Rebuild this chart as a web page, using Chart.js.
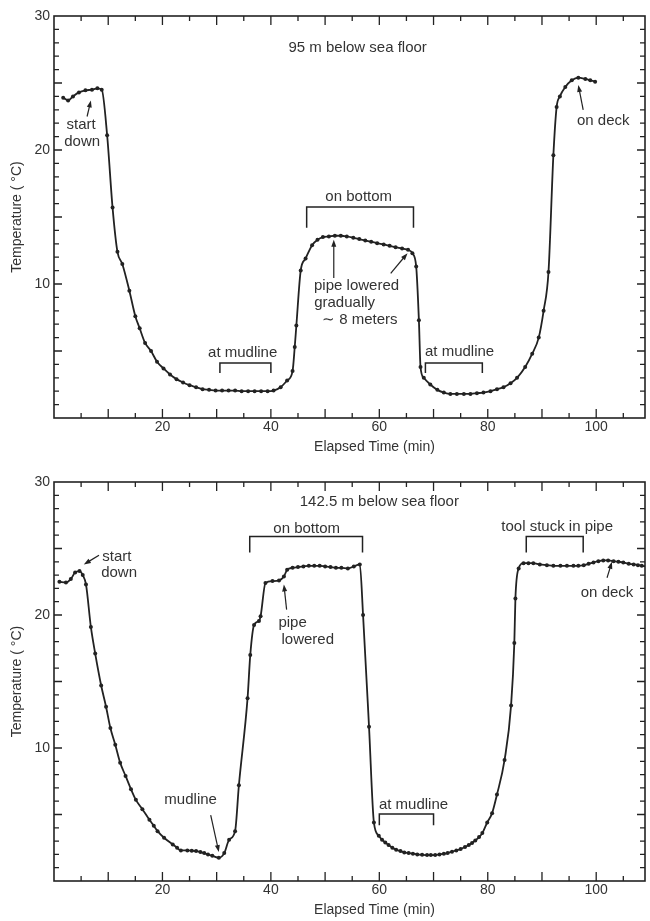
<!DOCTYPE html>
<html><head><meta charset="utf-8">
<script src="https://cdn.jsdelivr.net/npm/chart.js@4.4.1/dist/chart.umd.min.js"></script>
<style>
html,body{margin:0;padding:0;background:#fff;}
#wrap{position:relative;width:650px;height:921px;overflow:hidden;background:#fff}
canvas{position:absolute;left:0}
</style></head><body>
<div id="wrap">
<canvas id="topChart" width="650" height="460" style="top:0"></canvas>
<canvas id="bottomChart" width="650" height="461" style="top:460px"></canvas>
</div>
<script>
// ---------- data ----------
const topTime = [1.7,2.6,3.5,4.6,5.8,7.0,8.0,8.8,9.8,10.8,11.7,12.6,13.9,15.0,15.8,16.8,17.9,19.0,20.2,21.4,22.6,23.8,25.0,26.2,27.4,28.6,29.8,31.0,32.2,33.4,34.6,35.8,37.0,38.2,39.4,40.5,41.8,43.0,44.0,44.4,44.7,45.5,46.4,47.6,48.6,49.6,50.7,51.8,52.9,54.0,55.2,56.3,57.4,58.5,59.6,60.8,61.9,63.0,64.2,65.3,66.1,66.8,67.3,67.6,68.2,69.4,70.7,71.9,73.1,74.3,75.6,76.8,78.0,79.2,80.5,81.7,82.9,84.2,85.4,86.9,88.2,89.4,90.3,91.2,92.1,92.7,93.3,94.3,95.5,96.7,98.0,98.9,99.8];
const topTemp = [23.9,23.7,24.0,24.3,24.45,24.5,24.6,24.5,21.1,15.7,12.4,11.5,9.5,7.6,6.7,5.6,5.0,4.2,3.7,3.25,2.9,2.65,2.45,2.3,2.15,2.1,2.05,2.05,2.05,2.05,2.0,2.0,2.0,2.0,2.0,2.05,2.3,2.8,3.5,5.3,6.9,11.0,11.9,12.9,13.3,13.5,13.55,13.6,13.6,13.55,13.45,13.35,13.25,13.15,13.05,12.95,12.85,12.75,12.65,12.55,12.3,11.3,7.3,3.8,3.0,2.5,2.1,1.9,1.8,1.8,1.8,1.8,1.85,1.9,2.0,2.15,2.3,2.6,3.0,3.8,4.8,6.0,8.0,10.9,19.6,23.2,24.0,24.7,25.2,25.4,25.3,25.2,25.1];

const bottomTime = [1.0,2.2,3.1,3.9,4.7,5.3,5.9,6.8,7.6,8.7,9.6,10.4,11.3,12.2,13.2,14.2,15.1,16.3,17.6,18.4,19.1,20.3,21.9,22.7,23.4,24.6,25.4,26.2,27.0,27.7,28.4,29.2,30.4,31.4,32.3,33.4,34.1,35.7,36.2,36.9,37.8,38.1,39.0,40.3,41.5,42.4,43.0,44.0,45.0,46.0,47.0,48.0,49.0,50.0,51.0,52.0,53.0,54.2,55.3,56.4,57.0,58.1,59.0,59.9,60.5,61.1,61.7,62.4,63.1,63.9,64.6,65.4,66.2,67.0,67.9,68.8,69.5,70.3,71.1,71.9,72.6,73.4,74.2,75.0,75.8,76.5,77.1,77.7,78.4,79.0,79.9,80.8,81.7,83.1,84.3,84.9,85.1,85.7,86.6,87.5,88.4,89.6,90.9,92.1,93.4,94.6,95.8,96.7,97.7,98.6,99.5,100.4,101.3,102.2,103.2,104.1,105.0,106.0,106.9,107.7,108.4,109.5];
const bottomTemp = [22.5,22.45,22.7,23.2,23.3,23.0,22.3,19.1,17.1,14.7,13.1,11.5,10.25,8.9,7.9,6.9,6.1,5.4,4.6,4.15,3.75,3.25,2.75,2.5,2.3,2.3,2.28,2.25,2.18,2.1,2.0,1.9,1.75,2.1,3.1,3.75,7.2,13.75,17.0,19.25,19.55,19.9,22.4,22.55,22.6,22.9,23.4,23.55,23.6,23.65,23.7,23.7,23.7,23.65,23.6,23.55,23.55,23.5,23.65,23.8,20.0,11.6,4.4,3.4,3.1,2.9,2.7,2.5,2.35,2.25,2.15,2.1,2.05,2.0,1.97,1.95,1.95,1.95,2.0,2.05,2.1,2.2,2.3,2.4,2.55,2.7,2.85,3.05,3.3,3.6,4.4,5.1,6.5,9.1,13.2,17.9,21.25,23.5,23.9,23.9,23.9,23.8,23.75,23.7,23.7,23.7,23.7,23.7,23.75,23.85,23.95,24.05,24.1,24.1,24.05,24.0,23.95,23.85,23.8,23.75,23.7,23.65];

const xTickLabels = ['20','40','60','80','100'];
const yTickLabels = ['10','20','30'];
const xTitle = 'Elapsed Time (min)';
const yTitle = 'Temperature ( °C)';

// ---------- annotations (text, data-x, data-y) ----------
const topNotes = {
  texts: [['95 m below sea floor',56.0,27.6],['start',5.0,21.9],['down',5.2,20.6],['on bottom',56.2,16.5],
          ['pipe lowered',55.8,9.85],['gradually',53.6,8.6],['\u223C 8 meters',56.4,7.3],
          ['at mudline',34.8,4.85],['at mudline',74.8,4.9],['on deck',101.3,22.2]],
  brackets: [[46.6,66.3,15.75,14.2],[30.6,40.0,4.1,3.36],[68.5,79.0,4.1,3.36]],
  arrows: [[6.1,22.5,6.8,23.7],[51.6,10.45,51.6,13.3],[62.1,10.8,65.2,12.3],[97.6,23.0,96.7,24.85]]
};
const bottomNotes = {
  texts: [['142.5 m below sea floor',60.0,28.5],['start',11.6,24.4],['down',12.0,23.2],['on bottom',46.6,26.5],
          ['pipe',44.0,19.4],['lowered',46.8,18.1],['tool stuck in pipe',92.8,26.6],['on deck',102.0,21.7],
          ['mudline',25.2,6.1],['at mudline',66.3,5.7]],
  brackets: [[36.1,56.9,25.9,24.7],[87.1,97.6,25.9,24.7],[60.0,70.0,5.04,4.2]],
  arrows: [[8.3,24.5,5.5,23.8],[42.9,20.4,42.4,22.3],[102.0,22.8,102.9,24.0],[28.9,4.96,30.4,2.18]]
};

const INK = '#222222';
const TXT = '#333333';
const FONT = "'Liberation Sans', Arial, sans-serif";

function framePlugin(notes) {
  return {
    id: 'frameNotes',
    afterDatasetsDraw(chart) {
      const {ctx, chartArea: a, scales: {x, y}} = chart;
      ctx.save();
      ctx.strokeStyle = INK;
      ctx.lineWidth = 1.6;
      ctx.strokeRect(a.left, a.top, a.right - a.left, a.bottom - a.top);
      ctx.lineWidth = 1.3;
      ctx.beginPath();
      for (let v = y.min + 1; v < y.max; v++) {
        const py = y.getPixelForValue(v);
        const len = v % 5 === 0 ? 8 : 5;
        ctx.moveTo(a.left, py); ctx.lineTo(a.left + len, py);
        ctx.moveTo(a.right, py); ctx.lineTo(a.right - len, py);
      }
      for (let v = 5; v < x.max; v += 5) {
        const px = x.getPixelForValue(v);
        const len = v % 10 === 0 ? 9 : 5;
        ctx.moveTo(px, a.bottom); ctx.lineTo(px, a.bottom - len);
        ctx.moveTo(px, a.top); ctx.lineTo(px, a.top + len);
      }
      ctx.stroke();
      // brackets
      ctx.lineWidth = 1.5;
      notes.brackets.forEach(([x0, x1, yt, yb]) => {
        const p0 = x.getPixelForValue(x0), p1 = x.getPixelForValue(x1);
        const t = y.getPixelForValue(yt), b = y.getPixelForValue(yb);
        ctx.beginPath();
        ctx.moveTo(p0, b); ctx.lineTo(p0, t); ctx.lineTo(p1, t); ctx.lineTo(p1, b);
        ctx.stroke();
      });
      // arrows
      ctx.fillStyle = INK;
      ctx.lineWidth = 1.2;
      notes.arrows.forEach(([xa, ya, xb, yb]) => {
        const sx = x.getPixelForValue(xa), sy = y.getPixelForValue(ya);
        const ex = x.getPixelForValue(xb), ey = y.getPixelForValue(yb);
        const ang = Math.atan2(ey - sy, ex - sx);
        ctx.beginPath(); ctx.moveTo(sx, sy); ctx.lineTo(ex - 4 * Math.cos(ang), ey - 4 * Math.sin(ang)); ctx.stroke();
        ctx.beginPath();
        ctx.moveTo(ex, ey);
        ctx.lineTo(ex - 7 * Math.cos(ang) + 2.5 * Math.sin(ang), ey - 7 * Math.sin(ang) - 2.5 * Math.cos(ang));
        ctx.lineTo(ex - 7 * Math.cos(ang) - 2.5 * Math.sin(ang), ey - 7 * Math.sin(ang) + 2.5 * Math.cos(ang));
        ctx.closePath(); ctx.fill();
      });
      // texts
      ctx.fillStyle = TXT;
      ctx.font = '15px ' + FONT;
      ctx.textAlign = 'center';
      ctx.textBaseline = 'middle';
      notes.texts.forEach(([s, xv, yv]) => {
        ctx.fillText(s, x.getPixelForValue(xv), y.getPixelForValue(yv));
      });
      // x axis title
      ctx.font = '14px ' + FONT;
      ctx.fillText(xTitle, (a.left + a.right) / 2 + 25, a.bottom + 29);
      ctx.restore();
    }
  };
}

function makeChart(id, times, temps, notes, padTop, xHeight) {
  const pts = times.map((t, i) => ({x: t, y: temps[i]}));
  return new Chart(document.getElementById(id), {
    type: 'line',
    data: {datasets: [{
      data: pts,
      borderColor: INK, borderWidth: 1.8,
      pointRadius: 2, pointBackgroundColor: INK, pointBorderWidth: 0,
      cubicInterpolationMode: 'monotone', fill: false
    }]},
    options: {
      responsive: false, animation: false, events: [],
      layout: {padding: {left: 0, right: 5, top: padTop, bottom: 0}},
      plugins: {legend: {display: false}, tooltip: {enabled: false}},
      scales: {
        x: {
          type: 'linear', min: 0, max: 109,
          grid: {display: false, drawTicks: false}, border: {display: false},
          ticks: {stepSize: 20, includeBounds: false, padding: 1, color: TXT,
                  font: {family: FONT, size: 14}, maxRotation: 0,
                  callback: v => xTickLabels.includes(String(v)) ? String(v) : ''},
          afterFit: s => { s.height = xHeight; }
        },
        y: {
          type: 'linear', min: 0, max: 30,
          grid: {display: false, drawTicks: false}, border: {display: false},
          ticks: {stepSize: 10, padding: 4, color: TXT, font: {family: FONT, size: 14},
                  callback: v => yTickLabels.includes(String(v)) ? String(v) : ''},
          title: {display: true, text: yTitle, color: TXT, font: {family: FONT, size: 14},
                  padding: {top: 9, bottom: 0}},
          afterFit: s => { s.width = 54; }
        }
      }
    },
    plugins: [framePlugin(notes)]
  });
}

makeChart('topChart', topTime, topTemp, topNotes, 16, 42);
makeChart('bottomChart', bottomTime, bottomTemp, bottomNotes, 22, 40);
</script>
</body></html>
